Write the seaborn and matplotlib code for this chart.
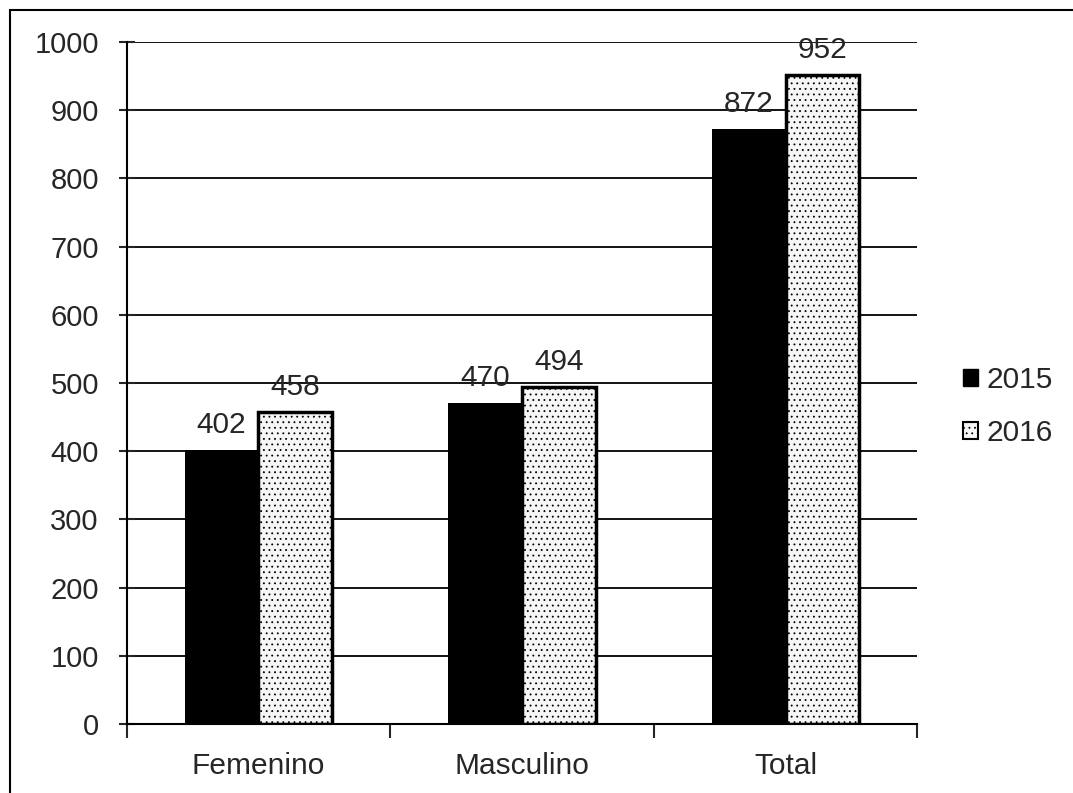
import numpy as np
import pandas as pd
import matplotlib
matplotlib.use('Agg')
import matplotlib.pyplot as plt
from matplotlib.patches import Rectangle
import seaborn as sns

sns.set_style("white")
plt.rcParams['font.family'] = ['Liberation Sans', 'DejaVu Sans']
plt.rcParams['hatch.color'] = '#555555'
plt.rcParams['hatch.linewidth'] = 0.6

categories = ['Femenino', 'Masculino', 'Total']
years = ['2015', '2016']
values_2015 = [402, 470, 872]
values_2016 = [458, 494, 952]

df = pd.DataFrame({
    'cat': categories * 2,
    'year': [years[0]] * 3 + [years[1]] * 3,
    'val': values_2015 + values_2016,
})

fig = plt.figure(figsize=(10.73, 7.93), dpi=100)
ax = fig.add_axes([0.118, 0.087, 0.737, 0.860])

sns.barplot(data=df, x='cat', y='val', hue='year', order=categories,
            hue_order=years, palette=['black', '#f6f6f6'], width=0.56,
            gap=0, saturation=1, edgecolor='black', linewidth=0, ax=ax,
            legend=False)

# stipple the 2016 bars
for bar in ax.containers[1]:
    bar.set_hatch('...')
    bar.set_linewidth(2.5)
    bar.set_edgecolor('black')

# value labels
for cont in ax.containers:
    ax.bar_label(cont, fontsize=21.5, padding=8)

ax.set_ylim(0, 1000)
ax.set_xlim(-0.5, 2.5)
ax.set_yticks(np.arange(0, 1001, 100))
ax.yaxis.grid(True, color='black', linewidth=1.3)
ax.set_axisbelow(True)
ax.set_xlabel('')
ax.set_ylabel('')

for s in ['top', 'right']:
    ax.spines[s].set_visible(False)
ax.spines['left'].set_color('black')
ax.spines['bottom'].set_color('black')
ax.spines['left'].set_linewidth(1.5)
ax.spines['bottom'].set_linewidth(1.5)

ax.tick_params(axis='y', direction='inout', length=12, width=1.5,
               labelsize=21, pad=14, left=True)
ax.tick_params(axis='x', length=0, labelsize=21.5, pad=20)
# x ticks at category boundaries
ax.set_xticks([-0.5, 0.5, 1.5, 2.5], minor=True)
ax.tick_params(axis='x', which='minor', direction='out', length=10,
               width=1.5, bottom=True)

handles = [Rectangle((0, 0), 1, 1, facecolor='black', edgecolor='black'),
           Rectangle((0, 0), 1, 1, facecolor='#f6f6f6', edgecolor='black',
                     hatch='...', linewidth=1.5)]
fig.legend(handles, years, loc='center left',
           bbox_to_anchor=(0.886, 0.487), frameon=False, fontsize=21.5,
           handlelength=0.5, handleheight=0.5, handletextpad=0.3,
           labelspacing=0.85, borderaxespad=0)

# outer chart border (cropped at right and bottom in the scan)
fig.patches.append(Rectangle((0.009, -0.05), 1.1, 1.037,
                             transform=fig.transFigure, fill=False,
                             edgecolor='black', linewidth=1.5))

fig.savefig('out.png', dpi=100)
